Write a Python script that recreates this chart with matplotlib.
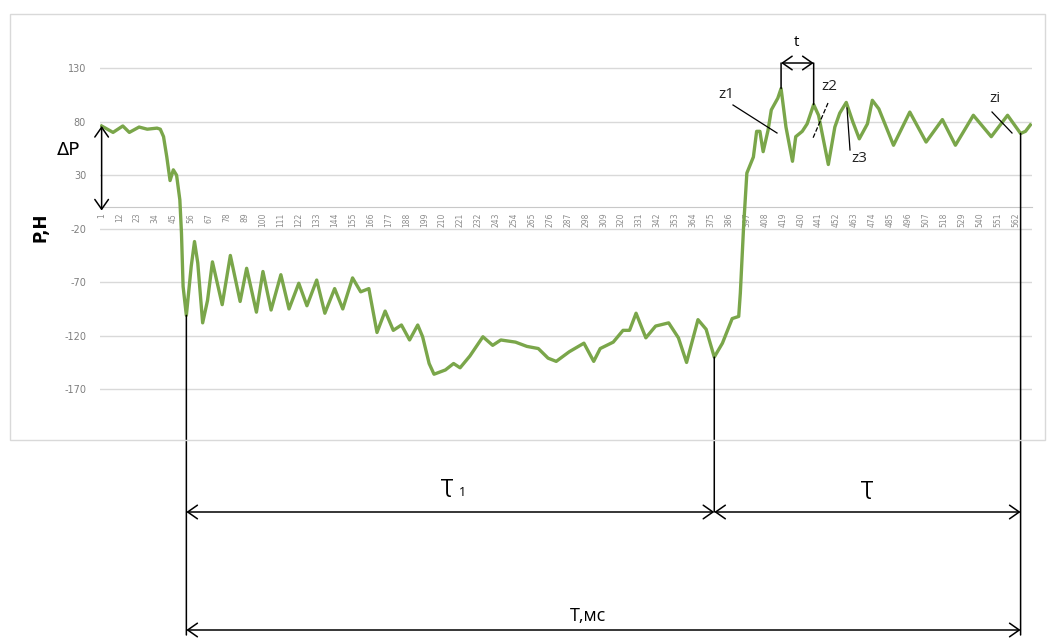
import matplotlib.pyplot as plt
from matplotlib.patches import Rectangle

plt.rcParams['axes.unicode_minus'] = False

# Data: sample number and force value (P, H)
samples = [1, 8, 14, 18, 24, 29, 35, 37, 39, 41, 43, 45, 47, 49, 50, 51, 53,
           56, 58, 60, 63, 66, 69, 75, 80, 86, 90, 96, 100, 105, 111, 116, 122,
           127, 133, 138, 144, 149, 155, 160, 165, 170, 175, 180, 185, 190, 195,
           198, 202, 205, 212, 217, 221, 227, 235, 241, 246, 255, 262, 269, 275,
           280, 288, 297, 303, 307, 315, 321, 325, 329, 335, 341, 349, 355, 360,
           367, 372, 377, 382, 388, 392, 393, 395, 397, 401, 403, 405, 407, 410,
           412, 416, 418, 421, 425, 427, 431, 434, 438, 441, 447, 451, 454, 458,
           462, 466, 471, 474, 478, 487, 497, 507, 517, 525, 536, 547, 557, 565,
           568, 571]
force = [76, 70, 76, 70, 75, 73, 74, 73, 66, 47, 25, 35, 30, 7, -24, -74, -101,
         -55, -32, -52, -108, -87, -51, -91, -45, -88, -57, -98, -60, -96, -63,
         -95, -71, -92, -68, -99, -76, -95, -66, -79, -76, -117, -97, -115, -110,
         -124, -110, -121, -146, -156, -152, -146, -150, -139, -121, -129, -124,
         -126, -130, -132, -141, -144, -135, -127, -144, -132, -126, -115, -115,
         -99, -122, -111, -108, -122, -145, -105, -114, -140, -127, -104, -102,
         -80, -18, 32, 47, 71, 71, 52, 72, 91, 102, 111, 75, 43, 66, 71, 78, 96,
         86, 40, 75, 88, 98, 80, 64, 78, 100, 92, 58, 89, 61, 82, 58, 86, 66, 86,
         69, 71, 77]

x_ticks = list(range(1, 563, 11))
y_ticks = [-170, -120, -70, -20, 30, 80, 130]

# samples where the hand-drawn markers start
t1_start, t1_end, t_end = 53, 377, 565
per_a, per_b = 418, 438

W, H = 1047, 641
green = '#7aa64a'
grid_c = '#d9d9d9'


def val(s):
    return force[samples.index(s)]


def fx(px):
    return px / W


def fy(py):
    return 1 - py / H


fig = plt.figure(figsize=(W / 100, H / 100), dpi=100)
fig.add_artist(Rectangle((fx(10), fy(440)), fx(1045) - fx(10), fy(14) - fy(440),
                         transform=fig.transFigure, fill=False,
                         edgecolor=grid_c, lw=1))

ax = fig.add_axes([fx(100), fy(442.7), fx(1032) - fx(100), fy(14.7) - fy(442.7)])
ax.plot(samples, force, color=green, lw=2.4, solid_joinstyle='round', zorder=3)

ax.set_xlim(0, 572)
ax.set_ylim(-220, 180)
ax.set_yticks(y_ticks)
ax.set_xticks(x_ticks)
ax.set_xticklabels([str(v) for v in x_ticks])
ax.tick_params(axis='y', length=0, pad=10, labelsize=7, labelcolor='#7f7f7f')
ax.tick_params(axis='x', length=0, pad=4, labelsize=5.5, labelcolor='#8c8c8c',
               labelrotation=90)
ax.grid(axis='y', color=grid_c, lw=1)
ax.set_axisbelow(True)
for side in ['left', 'right', 'top']:
    ax.spines[side].set_visible(False)
ax.spines['bottom'].set_position(('data', 0))
ax.spines['bottom'].set_color('#c8c8c8')

fig.text(fx(40), fy(227), 'P,H', rotation=90, fontsize=12, fontweight='bold',
         ha='center', va='center')

# delta P arrow
arrow = dict(arrowstyle='<->,head_length=0.5,head_width=0.35', color='black',
             lw=1.1, shrinkA=0, shrinkB=0, mutation_scale=14)
ax.annotate('', xy=(samples[0], force[0]), xytext=(samples[0], -3),
            arrowprops=arrow, annotation_clip=False)
fig.text(fx(68), fy(150), 'ΔP', fontsize=13, ha='center', va='center')

# vertical drop lines to the time arrows
line = dict(arrowstyle='-', color='black', lw=1.1, shrinkA=0, shrinkB=0)
for s, bottom in [(t1_start, 6), (t1_end, 641 - 512), (t_end, 6)]:
    ax.annotate('', xy=(s, val(s)), xytext=(s, bottom),
                textcoords=('data', 'figure pixels'), arrowprops=line,
                annotation_clip=False)

# time arrows below the chart
for a, b, y in [(t1_start, t1_end, 641 - 512), (t1_end, t_end, 641 - 512),
                (t1_start, t_end, 641 - 630)]:
    ax.annotate('', xy=(a, y), xycoords=('data', 'figure pixels'),
                xytext=(b, y), textcoords=('data', 'figure pixels'),
                arrowprops=arrow, annotation_clip=False)

fam = ['Open Sans', 'DejaVu Sans']
fig.text(fx(447), fy(488), 'Ʈ', fontsize=14, family=fam, ha='center', va='center')
fig.text(fx(462), fy(492), '1', fontsize=9, family=fam, ha='center', va='center')
fig.text(fx(867), fy(490), 'Ʈ', fontsize=14, family=fam, ha='center', va='center')
fig.text(fx(588), fy(616), 'T,мс', fontsize=13, family=fam, ha='center', va='center')

# period t between two peaks
for s in [per_a, per_b]:
    ax.annotate('', xy=(s, val(s)), xytext=(s, 641 - 63),
                textcoords=('data', 'figure pixels'), arrowprops=line,
                annotation_clip=False)
ax.annotate('', xy=(per_a, 641 - 63), xycoords=('data', 'figure pixels'),
            xytext=(per_b, 641 - 63), textcoords=('data', 'figure pixels'),
            arrowprops=arrow, annotation_clip=False)
fig.text(fx(797), fy(43), 't', fontsize=11, family=fam, ha='center', va='center')

# z labels with leader lines (figure pixels)
labels = [('z1', 726, 94, [(733, 105), (777, 133)], '-'),
          ('z2', 829, 87, [(828, 103), (813, 138)], '--'),
          ('z3', 859, 158, [(847, 108), (850, 150)], '-'),
          ('zi', 995, 99, [(992, 112), (1012, 133)], '-')]
for txt, tx, ty, pts, ls in labels:
    fig.text(fx(tx), fy(ty), txt, fontsize=11, family=fam, ha='center',
             va='center', color='#222222')
    fig.add_artist(plt.Line2D([fx(p[0]) for p in pts], [fy(p[1]) for p in pts],
                              color='black', lw=0.9, ls=ls,
                              transform=fig.transFigure))

plt.savefig('out.png', dpi=100)
